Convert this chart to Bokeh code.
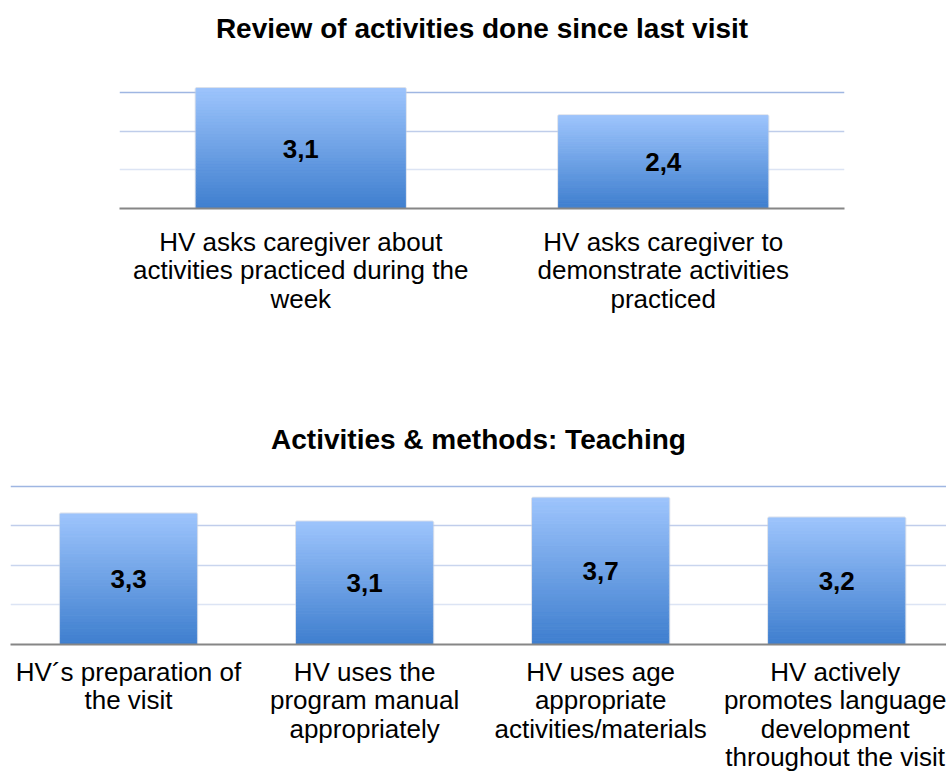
import numpy as np
from bokeh.plotting import figure
from bokeh.models import FixedTicker, Range1d, ColumnDataSource
from bokeh.core.properties import value
from bokeh.embed import file_html
from bokeh.resources import INLINE

# ---- data ----
title1 = "Review of activities done since last visit"
cats1 = [
    "HV asks caregiver about\nactivities practiced during the\nweek",
    "HV asks caregiver to\ndemonstrate activities\npracticed",
]
vals1 = [3.1, 2.4]
grid1 = [1, 2, 3]

title2 = "Activities & methods: Teaching"
cats2 = [
    "HV\u00b4s preparation of\nthe visit",
    "HV uses the\nprogram manual\nappropriately",
    "HV uses age\nappropriate\nactivities/materials",
    "HV actively\npromotes language\ndevelopment\nthroughout the visit",
]
vals2 = [3.3, 3.1, 3.7, 3.2]
grid2 = [1, 2, 3, 4]

FONT = "Liberation Sans"
TOP_RGB = np.array([157, 196, 252])
BOT_RGB = np.array([62, 126, 206])


def hexc(rgb):
    r, g, b = [int(round(c)) for c in rgb]
    return "#%02x%02x%02x" % (r, g, b)


def make_chart(title, cats, vals, grid, grid_colors, x_start, x_end, y_end,
               width, height, mb_top, mb_bottom, mb_left, mb_right,
               title_standoff, label_standoff):
    p = figure(width=width, height=height, output_backend="svg",
               toolbar_location=None, x_range=Range1d(x_start, x_end),
               y_range=Range1d(0, y_end), min_border_top=mb_top,
               min_border_bottom=mb_bottom, min_border_left=mb_left,
               min_border_right=mb_right)
    p.title.text = title
    p.title.text_font = FONT
    p.title.text_font_size = "28px"
    p.title.text_font_style = "bold"
    p.title.text_color = "black"
    p.title.align = "center"
    p.title.standoff = title_standoff
    p.outline_line_color = None
    p.xgrid.visible = False
    p.ygrid.visible = False
    p.yaxis.visible = False
    p.background_fill_color = "white"
    p.border_fill_color = "white"

    # gridlines with individual colours
    p.hspan(y=grid, line_color=grid_colors, line_width=1.6)

    n = len(vals)
    xs = np.arange(n)
    half = 0.2885
    # soft shadow outline
    p.quad(left=xs - half, right=xs + half, bottom=0, top=vals,
           fill_color=None, line_color="#c3cddd", line_width=3, line_alpha=0.6)

    # gradient bars via thin slices
    N = 40
    L, R, B, T, C = [], [], [], [], []
    for i, v in enumerate(vals):
        for k in range(N):
            t = (k + 0.5) / N
            L.append(i - half)
            R.append(i + half)
            B.append(v * k / N)
            T.append(v * (k + 1) / N)
            C.append(hexc(BOT_RGB + (TOP_RGB - BOT_RGB) * t))
    src = ColumnDataSource(dict(left=L, right=R, bottom=B, top=T, color=C))
    p.quad(left="left", right="right", bottom="bottom", top="top",
           fill_color="color", line_color="color", line_width=1, source=src)

    lab = ColumnDataSource(dict(
        x=list(xs), y=[v / 2 for v in vals],
        t=[("%.1f" % v).replace(".", ",") for v in vals]))
    p.text(x="x", y="y", text="t", source=lab, text_align="center",
           text_baseline="middle", text_font=value(FONT),
           text_font_style="bold", text_font_size="26px", text_color="black")

    ax = p.xaxis[0]
    ax.ticker = FixedTicker(ticks=list(range(n)))
    ax.major_label_overrides = {i: c for i, c in enumerate(cats)}
    ax.major_label_text_font = FONT
    ax.major_label_text_font_size = "26px"
    ax.major_label_text_color = "black"
    ax.major_label_text_line_height = 0.95
    ax.major_label_standoff = label_standoff
    ax.major_tick_line_color = None
    ax.minor_tick_line_color = None
    ax.axis_line_color = "#868686"
    ax.axis_line_width = 2
    return p


W = 946
p1 = make_chart(title1, cats1, vals1, grid1,
                ["#dce4f4", "#bfcdea", "#9fb6e2"],
                -0.5, 1.5, 3.98, W, 404, 54, 196, 119, W - 844,
                21, 12)
p2 = make_chart(title2, cats2, vals2, grid2,
                ["#dce4f4", "#c9d5ee", "#c0cdeb", "#9fb6e2"],
                -0.5, 3.465, 4.35, W, 374, 68, 134, 10, 0,
                35, 6)

open("out.html", "w").write(file_html([p1, p2], INLINE))
